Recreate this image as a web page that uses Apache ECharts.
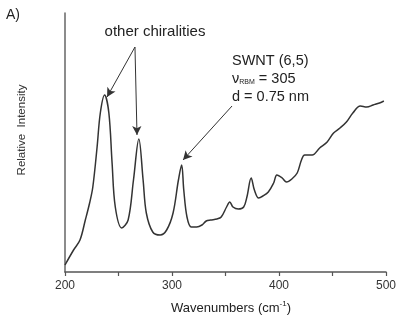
<!DOCTYPE html>
<html>
<head>
<meta charset="utf-8">
<script src="https://cdn.jsdelivr.net/npm/echarts@6/dist/echarts.min.js"></script>
<style>html,body{margin:0;padding:0;background:#fff}#c{width:400px;height:322px}</style>
</head>
<body>
<div id="c"></div>
<script>
var wavenumbers = [200,208,214,219,223,226,230,233,237,241,244,247,253,259,264,269,273,276,282,289,295,301,306,309,311,314,318,323,328,332,336,342,346,351,354,357,362,367,370,374,377,381,385,390,395,398,403,407,412,417,421,424,431,438,445,451,457,463,469,476,482,488,494,498];
var intensity = [7,22,32,52,69,85,125,159,177,159,109,65,44,52,92,133,92,59,40,37,42,59,92,107,82,55,45,45,47,51,52,53,55,65,70,65,63,65,75,94,82,74,76,80,89,97,94,90,93,99,112,117,117,124,130,139,144,150,159,166,165,167,169,171];
var xTickLabels = ['200','300','400','500'];
var arrows = [
  [[265.4,225],[239.3,175]],
  [[265.4,225],[267.3,137]],
  [[356.1,166],[310.3,112]]
];
var chart = echarts.init(document.getElementById('c'));
var data = wavenumbers.map(function(w,i){return [w,intensity[i]];});
chart.setOption({
  animation:false,
  backgroundColor:'#fff',
  grid:{left:65,right:14,top:13,bottom:50},
  xAxis:{type:'value',min:200,max:500,interval:50,
    axisLine:{lineStyle:{color:'#555',width:1.5}},
    axisTick:{show:true,length:4,lineStyle:{color:'#555',width:1.2}},
    splitLine:{show:false},
    axisLabel:{color:'#333',fontSize:12,fontFamily:'Liberation Sans, Arial',margin:8,
      formatter:function(v){var s=String(v);return xTickLabels.indexOf(s)>=0?s:'';}}
  },
  yAxis:{type:'value',min:0,max:259,
    axisLine:{show:true,lineStyle:{color:'#666',width:1.5}},
    axisTick:{show:false},axisLabel:{show:false},splitLine:{show:false}},
  series:[{type:'line',data:data,smooth:0.35,symbol:'none',
    lineStyle:{color:'#333',width:1.5},
    markLine:{silent:true,symbol:['none','arrow'],symbolSize:[7,9],
      label:{show:false},
      lineStyle:{color:'#333',width:1,type:'solid'},
      data:arrows.map(function(a){return [{coord:a[0]},{coord:a[1]}];})}
  }],
  graphic:[
    {type:'text',left:6,top:8,style:{text:'A)',font:'14px Liberation Sans, Arial',fill:'#222'}},
    {type:'text',x:155,y:32,style:{text:'other chiralities',font:'15px Liberation Sans, Arial',fill:'#222',align:'center',verticalAlign:'middle'}},
    {type:'text',x:232,y:52,style:{rich:{
        a:{font:'14.5px Liberation Sans, Arial',fill:'#222',lineHeight:18},
        s:{font:'7px Liberation Sans, Arial',fill:'#222',padding:[7,0,0,0]}},
      text:'{a|SWNT (6,5)}\n{a|ν}{s|RBM}{a| = 305}\n{a|d = 0.75 nm}'}},
    {type:'text',x:22,y:130,rotation:Math.PI/2,style:{text:'Relative  Intensity',font:'11.5px Liberation Sans, Arial',fill:'#333',align:'center',verticalAlign:'middle'}},
    {type:'text',x:231,y:308,style:{rich:{
        a:{font:'13px Liberation Sans, Arial',fill:'#222'},
        sup:{font:'8px Liberation Sans, Arial',fill:'#222',padding:[0,0,8,0]}},
      text:'{a|Wavenumbers (cm}{sup|-1}{a|)}',align:'center',verticalAlign:'middle'}}
  ]
});
</script>
</body>
</html>
